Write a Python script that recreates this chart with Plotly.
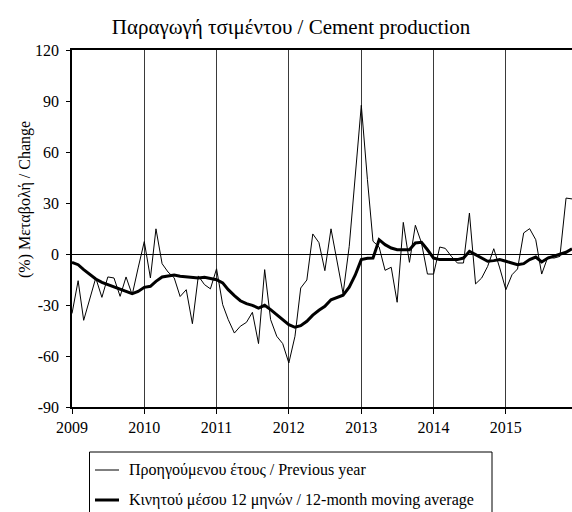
import pandas as pd
import plotly.graph_objects as go

months = pd.date_range("2009-01-01", periods=84, freq="MS")

yoy = [-35, -15.7, -39, -27, -14.1, -25.5, -13.5, -14.1, -24.9, -13.5, -24, -8.2,
       7.3, -14.1, 14.8, -5.7, -10.6, -14, -25, -21, -41, -12.9, -18, -20.5,
       -8.7, -29.8, -38.6, -46.5, -42.5, -40.2, -34.3, -52.7, -9.2, -38.6, -48.4, -52.7,
       -64.1, -48.4, -20, -15.3, 11.8, 6.7, -9.8, 14.8, -5, -23.3, 4.5, 45,
       87.5, 43.7, 7.5, 4.1, -9.6, -7.8, -28.4, 18.6, -4.9, 16.9, 6.5, -11.8,
       -11.8, 4.1, 3.3, -1.4, -5.3, -5.3, 24.1, -17.6, -14.1, -7.3, 3.1, -8.2,
       -21, -12.2, -8.8, 12.4, 14.9, 8.4, -11.8, -1.8, -2.4, -1.4, 32.9, 32.4]

ma12 = [-4.9, -6.3, -9.2, -12.2, -14.7, -16.7, -18, -19, -20.6, -21.6, -23.3, -22,
        -19.6, -19, -16.1, -13.5, -13.1, -12.4, -13.1, -13.5, -14.1, -14.1, -13.7, -14.5,
        -15.1, -17, -21, -24.5, -27.5, -29.2, -30.2, -31.8, -30.2, -32.7, -35.7, -38.6,
        -41.6, -43.1, -42.2, -39.6, -36, -33.1, -30.8, -26.9, -25.7, -24.2, -19.5, -12.5,
        -3.3, -2.5, -2.4, 8.4, 5.5, 3.5, 2.5, 2.5, 2.5, 6.5, 6.9, 2.5,
        -2.4, -3.3, -3.3, -3.3, -3.3, -2.4, 1.6, -0.4, -2.4, -4.3, -3.9, -3.3,
        -4.3, -5.3, -6.3, -5.7, -3.3, -1.8, -4.7, -2.4, -1.4, -0.4, 1, 3.1]

name_yoy = "Προηγούμενου έτους / Previous year"
name_ma = "Κινητού μέσου 12 μηνών / 12-month moving average"
title_text = "Παραγωγή τσιμέντου / Cement production"
ytitle = "(%) Μεταβολή / Change"
yticks = [-90, -60, -30, 0, 30, 60, 90, 120]

FONT = "Liberation Serif"
W, H = 572, 512
L, R, T, B = 72, 0, 50, 105
PW, PH = W - L - R, H - T - B


def px(x):
    return (x - L) / PW


def py(y):
    return (H - B - y) / PH


fig = go.Figure()
fig.add_trace(go.Scatter(x=months, y=yoy, mode="lines", name=name_yoy,
                         line=dict(color="black", width=1), showlegend=False))
fig.add_trace(go.Scatter(x=months, y=ma12, mode="lines", name=name_ma,
                         line=dict(color="black", width=3), showlegend=False))

# manual legend
fig.add_shape(type="rect", xref="paper", yref="paper",
              x0=px(89.5), x1=px(492), y0=py(452), y1=py(530),
              line=dict(color="black", width=1), fillcolor="rgba(0,0,0,0)")
for yy, lw, txt in [(470, 1, name_yoy), (500, 3, name_ma)]:
    fig.add_shape(type="line", xref="paper", yref="paper",
                  x0=px(95), x1=px(119), y0=py(yy), y1=py(yy),
                  line=dict(color="black", width=lw))
    fig.add_annotation(xref="paper", yref="paper", x=px(127), y=py(yy),
                       text=txt, showarrow=False, xanchor="left", yanchor="middle",
                       font=dict(family=FONT, size=16, color="black"))

fig.add_annotation(xref="paper", yref="paper", x=px(25), y=py(200),
                   text=ytitle, textangle=-90, showarrow=False,
                   xanchor="center", yanchor="middle",
                   font=dict(family=FONT, size=16, color="black"))

fig.update_layout(
    width=W, height=H,
    margin=dict(l=L, r=R, t=T, b=B),
    paper_bgcolor="white", plot_bgcolor="white",
    title=dict(text=title_text, x=291 / W, xref="container", xanchor="center",
               y=1 - 27 / H, yref="container", yanchor="middle",
               font=dict(family=FONT, size=21, color="black")),
    font=dict(family=FONT, size=16, color="black"),
    xaxis=dict(type="date", range=[months[0], months[-1]],
               tick0=months[0], dtick="M12", tickformat="%Y",
               showgrid=True, gridcolor="#3a3a3a", gridwidth=1,
               showline=True, mirror=True, linecolor="black", linewidth=1.5,
               ticks="outside", ticklen=5, tickcolor="black",
               zeroline=False, tickfont=dict(family=FONT, size=16)),
    yaxis=dict(range=[-90, 120], tickvals=yticks, ticktext=[str(v) for v in yticks],
               showgrid=False, zeroline=True, zerolinecolor="black", zerolinewidth=1,
               showline=True, linecolor="black", linewidth=1.5,
               ticks="outside", ticklen=4, tickcolor="black",
               ticklabelstandoff=4,
               tickfont=dict(family=FONT, size=16)),
)

fig.write_html(
    "out.html",
    config={"displayModeBar": False},
    post_script="document.body.style.margin='0px';document.body.style.overflow='hidden';",
)
